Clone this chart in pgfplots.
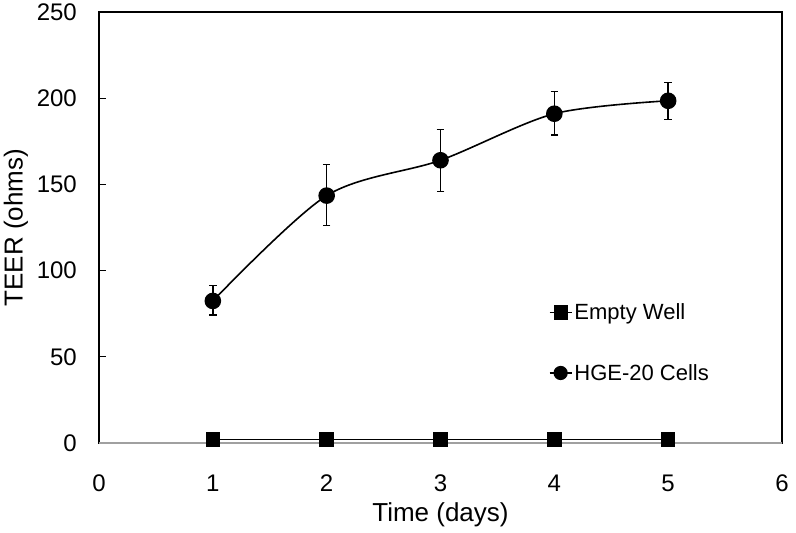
\documentclass[border=0pt]{standalone}
\usepackage{fontspec}
\setmainfont{Liberation Sans}
\usepackage{pgfplots}
\pgfplotsset{compat=1.18}
\usepackage{pgfplotstable}
\pgfplotstableread{
x y ep em
1 82.4 8.8 8.2
2 143.5 18.1 17.5
3 164.0 18.0 18.0
4 191.0 13.0 12.4
5 198.5 10.5 10.7
}\hgedata
\pgfplotstableread{
x y
1 2
2 2
3 2
4 2
5 2
}\emptywell
\definecolor{axgray}{RGB}{160,160,160}
\begin{document}
\begin{tikzpicture}
\begin{axis}[
  scale only axis, width=683bp, height=431bp,
  xmin=0, xmax=6, ymin=0, ymax=250,
  xtick={0,1,2,3,4,5,6}, ytick={0,50,100,150,200,250},
  axis line style={black, line width=1.2bp},
  ytick pos=left, xtick pos=bottom,
  tick align=inside,
  major tick length=7bp,
  x tick style={draw=none},
  y tick style={black, line width=1.2bp},
  tick label style={font=\fontsize{24bp}{28bp}\selectfont},
  /pgf/number format/assume math mode=true,
  xticklabel style={anchor=base, inner sep=0pt, yshift=-48.7bp},
  yticklabel style={anchor=east, inner sep=0pt, xshift=-22bp},
  xlabel={Time (days)}, ylabel={TEER (ohms)},
  label style={font=\fontsize{26bp}{30bp}\selectfont},
  xlabel style={at={(axis description cs:0.5,0)}, anchor=base, yshift=-78.5bp},
  ylabel style={at={(axis description cs:-0.1215,0.5)}, anchor=center},
  legend style={draw=none, fill=none, at={(axis cs:3.95,82)}, anchor=north west,
    font=\fontsize{22bp}{26bp}\selectfont, row sep=39bp, inner sep=0pt,
    nodes={inner sep=2bp}},
  legend cell align=left,
  legend image code/.code={\draw[mark repeat=2, mark phase=2, #1] plot coordinates {(0bp,0bp) (11bp,0bp) (22bp,0bp)};},
  legend image post style={mark size=6.3bp},
]
\draw[axgray, line width=1.8bp] (axis cs:0,0) -- (axis cs:6,0);
\addplot[black, line width=1.6bp, mark=square*, mark size=6.5bp, mark options={solid}]
  table[x=x, y=y] {\emptywell};
\addlegendentry{Empty Well}
\addplot[black, line width=1.6bp, smooth, mark=*, mark size=7.5bp,
  error bars/.cd, y dir=both, y explicit,
  error bar style={line width=1.4bp},
  error mark options={rotate=90, black, mark size=3.8bp, line width=1.4bp}]
  table[x=x, y=y, y error plus=ep, y error minus=em] {\hgedata};
\addlegendentry{HGE-20 Cells}
\end{axis}
\pgfresetboundingbox
\path[use as bounding box] (-99bp,-90bp) rectangle (697bp,443bp);
\end{tikzpicture}
\end{document}
